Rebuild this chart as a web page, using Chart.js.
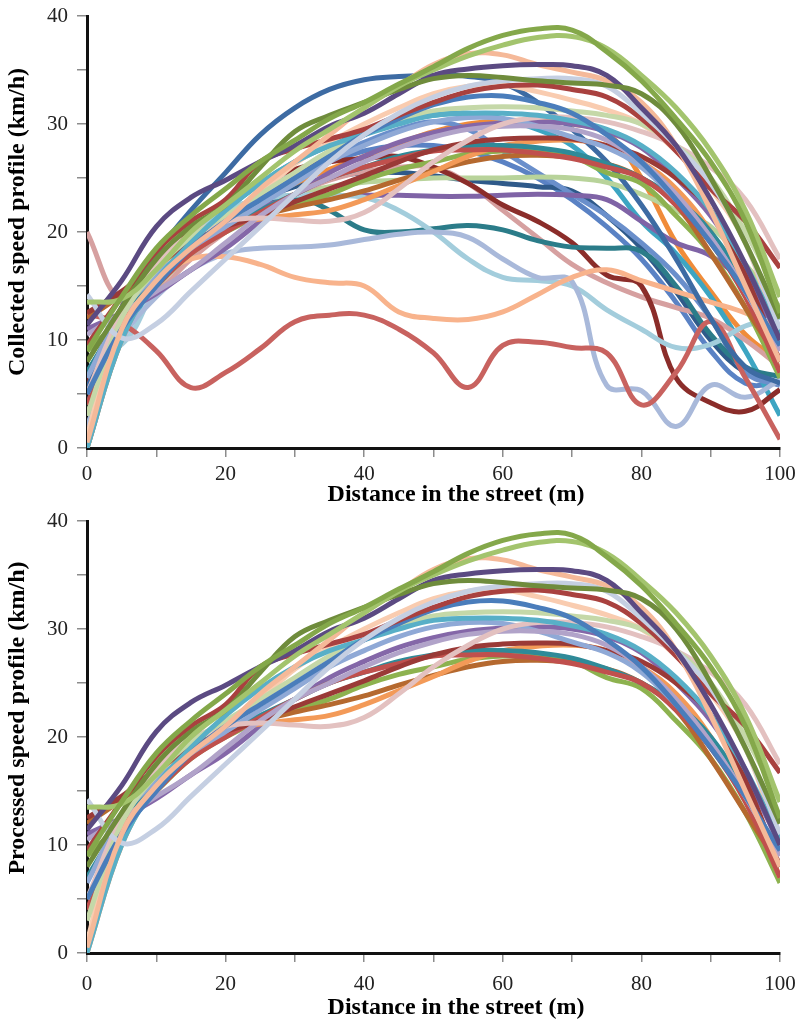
<!DOCTYPE html>
<html>
<head>
<meta charset="utf-8">
<script src="https://cdn.jsdelivr.net/npm/chart.js@4.4.1/dist/chart.umd.min.js"></script>
<style>
  body { margin: 0; background: #fff; }
  .box { position: absolute; left: 0; width: 799px; height: 515px; }
</style>
</head>
<body>
<div class="box" style="top:0"><canvas id="collected"></canvas></div>
<div class="box" style="top:505px"><canvas id="processed"></canvas></div>
<script>
// distance along the street (m), one sample every 5 m
const distance = [0, 5, 10, 15, 20, 25, 30, 35, 40, 45, 50, 55, 60, 65, 70, 75, 80, 85, 90, 95, 100];
const xTicks = [0, 20, 40, 60, 80, 100];
const yTicks = [0, 10, 20, 30, 40];

// profiles kept after processing (km/h)
const greenPeak   = [9, 14, 18.5, 21.5, 24, 26.5, 28.5, 30.5, 32, 33.7, 35.3, 37, 38.2, 38.8, 38.7, 36.7, 34, 30.5, 26.5, 21, 12.5];
const greenLight  = [13.5, 13.8, 16.5, 20, 22.5, 25, 27.5, 29.5, 31.5, 33.5, 35, 36.3, 37.3, 38, 38.1, 37, 34.5, 31.5, 27.5, 22, 14];
const olive       = [8, 13, 17.5, 20.5, 22.5, 26, 29.3, 30.8, 32, 33.2, 34.2, 34.5, 34.3, 34, 33.8, 33.6, 32.8, 30, 25, 19, 12];
const plum        = [11.4, 15.5, 20.5, 23.2, 24.8, 26.5, 28, 29.8, 31, 32.8, 34.5, 35.1, 35.4, 35.5, 35.4, 34.5, 31.5, 28, 23, 17, 10];
const peach       = [0.5, 11, 15.5, 18.5, 21, 24, 26.5, 29, 31.5, 33.5, 35.5, 36.5, 36.4, 35.5, 34.8, 34, 32, 28, 22, 15, 8];
const mist        = [14.2, 10.2, 11.5, 14.5, 17.5, 20.5, 23.5, 26.5, 29, 31, 32.5, 33.5, 34, 34.2, 34.2, 33.5, 31, 28, 24.5, 19, 11];
const brick       = [9.5, 14, 18.2, 21, 23, 26.5, 27.7, 28.6, 29.5, 30.8, 32, 33, 33.5, 33.6, 33.2, 32.5, 30.5, 27.5, 24, 21, 16.7];
const blue        = [5, 11, 15, 18.5, 21, 23, 25, 27, 29, 30.5, 31.8, 32.5, 32.6, 32, 31, 29, 26.5, 23, 19, 14.5, 9.5];
const aqua        = [0, 10, 15.5, 19, 22, 24.5, 26.5, 28, 29, 30, 30.8, 31, 31, 30.8, 30.3, 29.5, 28, 25.5, 22, 17, 10.5];
const sage        = [3, 12, 16.5, 19.5, 21.5, 23.5, 25.5, 27.5, 29, 30.3, 31.2, 31.5, 31.6, 31.5, 31.2, 30.8, 30, 28, 25, 20, 14];
const blush       = [5, 12.5, 17, 19.8, 21, 21.3, 21.1, 21, 21.8, 24, 26.5, 28.5, 30, 30.6, 30.6, 30.2, 29.3, 28, 26, 23, 17.5];
const lavender    = [10.5, 12.5, 14.5, 16.5, 19, 21.5, 23.5, 25, 26.5, 27.8, 28.8, 29.5, 29.8, 29.8, 29.5, 28.5, 26.5, 23.5, 19.5, 14.5, 9];
const cornflower  = [6.5, 12.5, 16, 18.5, 20.5, 22.5, 24.5, 26.5, 28, 29.3, 30.2, 30.6, 30.5, 29.8, 28.8, 27.8, 26, 23, 19.5, 14.5, 9];
const maroonLow   = [12.5, 14.5, 17, 19, 20.5, 21.5, 22.8, 24, 25.2, 26.5, 27.6, 28.3, 28.6, 28.7, 28.6, 28, 27, 25, 22, 16, 8];
const red         = [4, 11.5, 15, 18, 20, 21.8, 23.5, 25, 26, 26.8, 27.5, 27.6, 27.6, 27.3, 26.8, 26, 25, 22.5, 19, 14, 7];
const teal        = [7, 12, 15.5, 18.5, 20.5, 22, 23.5, 25, 26, 27, 27.6, 28, 28, 27.8, 27.3, 26.3, 25, 23, 20, 15, 8];
const orange      = [0, 10, 15.5, 18.5, 20.5, 21.2, 21.6, 22, 23, 24.3, 25.6, 27, 28, 28.4, 28.5, 28, 26.5, 24, 20, 14.5, 7];
const rust        = [12, 14.2, 16.8, 19, 20.5, 21.5, 22.3, 23, 23.8, 24.8, 25.7, 26.5, 27, 27.1, 26.9, 26.3, 25, 22.5, 18, 13, 8];
const grass       = [9, 12, 15, 18, 20, 21.5, 22.5, 23.5, 24.8, 25.8, 26.5, 27.2, 27.5, 27.5, 27, 25.5, 24.5, 21.5, 18, 13, 6.5];
const violet      = [11, 12.5, 14.3, 16.5, 18.5, 21, 23.5, 25.5, 27, 28.3, 29.2, 29.8, 30.1, 30.2, 30, 29.3, 27.8, 25, 21.5, 16.5, 10];
const apricot     = [1, 12.5, 16.5, 19, 21, 23.5, 26.3, 28.3, 30, 31.5, 32.8, 33.5, 33.6, 33, 32.2, 31.3, 30, 27.5, 24, 19, 10];

// profiles removed by the processing (km/h)
const steel       = [5.5, 13, 18, 22, 25.5, 29, 31.5, 33.2, 34.1, 34.4, 34.5, 34.4, 33.8, 32, 29.5, 26.5, 22.5, 17.5, 12, 7.5, 6];
const crimson     = [12.4, 11.5, 9, 5.6, 7, 9.2, 11.7, 12.3, 12.3, 11, 8.8, 5.6, 9.5, 9.8, 9.3, 8.8, 4, 7, 11.7, 6.5, 0.8];
const salmon      = [1, 11.5, 15.5, 17.5, 17.7, 17, 15.8, 15.3, 15, 12.6, 12, 11.9, 12.6, 14.2, 15.8, 16.5, 15.5, 14.5, 13.5, 12.5, 11];
const slate       = [2, 10, 14, 16.5, 18, 18.5, 18.6, 18.8, 19.3, 19.8, 20, 19.5, 17.5, 15.8, 15.4, 5.8, 5.3, 2, 5.8, 4.7, 6.3];
const sky         = [9.5, 9.6, 15, 19.5, 22, 23, 23.4, 23.4, 23.2, 22, 20, 17.5, 15.8, 15.5, 15, 12.8, 11, 9.3, 9.6, 11.3, 12.1];
const deepTeal    = [7, 12, 16, 19.5, 21.5, 22.8, 23.3, 22, 20.2, 20, 20.3, 20.6, 20.2, 19.2, 18.6, 18.5, 18.2, 15, 10.5, 7.5, 6.6];
const maroon      = [6, 13, 17, 20, 22.5, 24.5, 25.8, 26.5, 26.8, 27, 26, 24.5, 22.5, 21, 19, 16, 15, 6.5, 4.2, 3.4, 5.4];
const purple      = [6, 12.5, 16.5, 19.5, 21.5, 22.5, 23, 23.3, 23.4, 23.4, 23.3, 23.3, 23.4, 23.5, 23.4, 23, 21, 19, 17.8, 15, 10];
const rose        = [20, 13.5, 14.5, 17.5, 20, 22, 23.5, 24.8, 25.6, 26, 26, 24.5, 22, 19.5, 17, 15.3, 14, 13, 12, 10, 7.5];
const pistachio   = [3, 12, 16, 19, 21, 22.5, 23.5, 24.2, 24.6, 24.8, 25, 25, 25, 25.1, 25, 24.6, 23.5, 22, 20.5, 17, 13];
const denim       = [3, 11, 15.5, 19, 21.5, 23.5, 25.5, 27, 28.3, 29.5, 30.2, 29.5, 27.5, 25.5, 23.5, 21.5, 19, 16, 12, 7, 5.8];
const cyan        = [0, 10, 15, 19, 22, 24.5, 26.5, 28, 29.2, 30.2, 30.8, 31, 30.5, 29.5, 28, 25, 21, 18, 14, 9, 3];
const tangerine   = [0, 10.5, 15.5, 18.5, 21, 23, 24.5, 25.8, 27, 28.2, 29.3, 30, 30.3, 30.3, 30, 29.2, 25, 19, 14.5, 10.5, 8];
const navy        = [4, 12, 16.5, 19.5, 21.5, 23, 24.2, 25, 25.5, 25.5, 25.2, 24.8, 24.5, 24.2, 23.8, 21.5, 18.5, 14.5, 10, 7, 6];
const azure       = [2, 10.5, 15, 18.5, 21, 23, 25, 26.5, 27.5, 28, 28, 27.5, 26.5, 25, 23, 20.5, 17.5, 13.5, 9, 6, 6];

const keptLines = [greenPeak, greenLight, olive, plum, peach, mist, brick, blue, aqua, sage, blush,
  lavender, cornflower, maroonLow, red, teal, orange, rust, grass, violet, apricot];
const keptColors = ['#84a84a', '#a3c46d', '#6f8c3c', '#5b4a82', '#f5b999', '#c5cfe2', '#a9413f', '#4a7dbb',
  '#58afc7', '#c5d8a8', '#e3c1c0', '#b1a3c9', '#8fa9d6', '#9a3a37', '#c0504d', '#2f8a98', '#f39a58',
  '#b5692f', '#8db24f', '#8467a8', '#f9ccb0'];

const droppedLines = [steel, crimson, salmon, slate, sky, deepTeal, maroon, purple, rose, pistachio,
  denim, cyan, tangerine, navy, azure];
const droppedColors = ['#3d6ba3', '#c8625f', '#f8b38c', '#a9b9da', '#a3cddc', '#2b7c89', '#8b2d2a',
  '#7f63a6', '#d6a0a0', '#b8d39a', '#6a8fcb', '#3da5c2', '#f08c3a', '#2f5a8a', '#5a82c4'];

const makeSets = (lines, colors) => lines.map((vals, i) => ({
  data: vals.map((v, j) => ({ x: distance[j], y: v })),
  borderColor: colors[i],
  borderWidth: 5,
  pointRadius: 0,
  tension: 0.4,
  showLine: true,
  fill: false,
}));

const tickFont = { family: "'Liberation Serif', 'Times New Roman', serif", size: 21 };

const titles = (xTitle, xTitleY, yTitle, yMid) => ({
  id: 'axisTitles',
  afterDraw(chart) {
    const ctx = chart.ctx;
    ctx.save();
    ctx.fillStyle = '#000';
    ctx.font = "bold 24px 'Liberation Serif', 'Times New Roman', serif";
    ctx.textAlign = 'center';
    ctx.textBaseline = 'middle';
    ctx.fillText(xTitle, 456, xTitleY);
    ctx.translate(18, yMid);
    ctx.rotate(-Math.PI / 2);
    ctx.fillText(yTitle, 0, 0);
    ctx.restore();
  },
});

const createChart = (id, datasets, yTitle, yMid, labelPad, xTitleY) => {
  const ctx = document.getElementById(id);
  return new Chart(ctx, {
    type: 'scatter',
    data: { datasets },
    options: {
      responsive: true,
      maintainAspectRatio: false,
      animation: false,
      devicePixelRatio: 1,
      layout: { padding: { top: 16, right: 19, left: 0, bottom: 0 } },
      plugins: { legend: { display: false }, tooltip: { enabled: false } },
      scales: {
        x: {
          type: 'linear',
          min: 0,
          max: 100,
          afterFit: (s) => { s.height = 67; s.paddingLeft = 0; s.paddingRight = 0; },
          ticks: {
            stepSize: 10,
            autoSkip: false,
            maxRotation: 0,
            padding: labelPad,
            color: '#222',
            font: tickFont,
            callback: (v) => (xTicks.includes(v) ? v : ''),
          },
          grid: { drawOnChartArea: false, drawTicks: true, tickLength: 9, color: '#8c8c8c', lineWidth: 1.5 },
          border: { color: '#111', width: 3 },
        },
        y: {
          min: 0,
          max: 40,
          afterFit: (s) => { s.width = 87; s.paddingTop = 0; s.paddingBottom = 0; },
          ticks: {
            stepSize: 5,
            autoSkip: false,
            padding: 9,
            color: '#222',
            font: tickFont,
            callback: (v) => (yTicks.includes(v) ? v : ''),
          },
          grid: { drawOnChartArea: false, drawTicks: true, tickLength: 10, color: '#8c8c8c', lineWidth: 1.5 },
          border: { color: '#111', width: 3 },
        },
      },
    },
    plugins: [titles('Distance in the street (m)', xTitleY, yTitle, yMid)],
  });
};

createChart('collected', makeSets(keptLines, keptColors).concat(makeSets(droppedLines, droppedColors)),
  'Collected speed profile (km/h)', 222, 5, 495);
createChart('processed', makeSets(keptLines, keptColors), 'Processed speed profile (km/h)', 213, 10, 503);
</script>
</body>
</html>
